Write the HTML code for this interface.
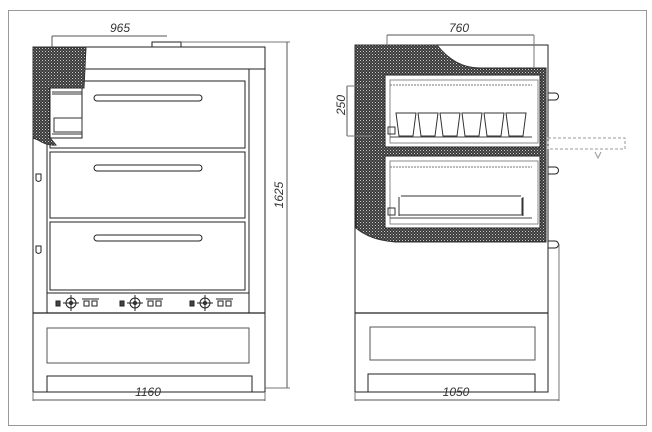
<!DOCTYPE html>
<html><head><meta charset="utf-8"><style>
html,body{margin:0;padding:0;background:#fff;}
svg{display:block;}
text{font-family:"Liberation Sans",sans-serif;font-style:italic;font-size:12px;fill:#333;}
</style></head><body>
<svg width="652" height="432" viewBox="0 0 652 432" xmlns="http://www.w3.org/2000/svg">
<defs>
<pattern id="h" width="3" height="3" patternUnits="userSpaceOnUse">
<rect width="3" height="3" fill="#3a3a3a"/>
<rect x="0" y="0" width="1" height="1" fill="#ccc"/>
<rect x="1.5" y="1.5" width="1" height="1" fill="#999"/>
</pattern>
</defs>
<rect x="8.5" y="10.5" width="638" height="415" fill="none" stroke="#999" stroke-width="1"/>
<g fill="none" stroke="#222" stroke-width="1">
<!-- LEFT FRONT VIEW -->
<rect x="152" y="42" width="29" height="5"/>
<rect x="33" y="47" width="232" height="345"/>
<line x1="33" y1="69" x2="265" y2="69"/>
<line x1="47" y1="69" x2="47" y2="313"/>
<line x1="249" y1="69" x2="249" y2="313"/>
<line x1="33" y1="313" x2="265" y2="313" stroke-width="1.3"/>
<rect x="50" y="81" width="195" height="67"/>
<rect x="50" y="152" width="195" height="66"/>
<rect x="50" y="222" width="195" height="68"/>
<line x1="47" y1="293" x2="249" y2="293"/>
<rect x="94" y="95" width="108" height="6" rx="3"/>
<rect x="94" y="165" width="108" height="6" rx="3"/>
<rect x="94" y="235" width="108" height="6" rx="3"/>
<path d="M36 174 h5 v6 a3 3 0 0 1 -5 0 z"/>
<path d="M36 246 h5 v6 a3 3 0 0 1 -5 0 z"/>
<rect x="47" y="328" width="202" height="35" stroke="#555"/>
<path d="M33 392 H47 V376 H252 V392 H265"/>
<!-- hatch left -->
<path d="M33 47 H86 L84 88 H50 V138 L56 145 Q47 146 38 140 L33 138 Z" fill="url(#h)" stroke="#333"/>
<rect x="50" y="88" width="32" height="50" fill="#fff"/>
<path d="M52 92 H82 M52 94 H82 M54 118 H82 V132 H54 Z M52 134 H82" stroke="#333"/>
<!-- LEFT dims -->
<line x1="52" y1="36" x2="167" y2="36" stroke="#555"/>
<line x1="52" y1="36" x2="52" y2="47" stroke="#555"/>
<line x1="181" y1="42" x2="290" y2="42" stroke="#777"/>
<line x1="287" y1="42" x2="287" y2="388" stroke="#555"/>
<line x1="265" y1="388" x2="290" y2="388" stroke="#777"/>
<line x1="33" y1="392" x2="33" y2="401" stroke="#777"/>
<line x1="265" y1="392" x2="265" y2="401" stroke="#777"/>
<line x1="33" y1="400" x2="265" y2="400" stroke="#555"/>
<!-- RIGHT SIDE VIEW -->
<rect x="355" y="45" width="193" height="347"/>
<line x1="355" y1="313" x2="548" y2="313" stroke-width="1.3"/>
<rect x="370" y="327" width="165" height="33" stroke="#555"/>
<path d="M355 392 H368 V374 H535 V392 H548"/>
<path d="M355 45 H437 Q455 68 480 68 H546 V242 H395 Q370 240 356 228 Z" fill="url(#h)" stroke="#333"/>
<rect x="385" y="75" width="155" height="72" fill="#fff"/>
<rect x="385" y="156" width="155" height="72" fill="#fff"/>
<rect x="390" y="80" width="148" height="63" stroke="#888"/>
<rect x="390" y="161" width="148" height="63" stroke="#888"/>
<line x1="390" y1="85" x2="532" y2="85" stroke="#777" stroke-dasharray="2 1"/>
<line x1="390" y1="167" x2="532" y2="167" stroke="#777" stroke-dasharray="2 1"/>
<line x1="390" y1="137" x2="532" y2="137" stroke="#444"/>
<line x1="390" y1="218" x2="532" y2="218" stroke="#444"/>
<g stroke="#333">
<path d="M396 113 h20 l-3 23 h-14 z M418 113 h20 l-3 23 h-14 z M440 113 h20 l-3 23 h-14 z M462 113 h20 l-3 23 h-14 z M484 113 h20 l-3 23 h-14 z M506 113 h20 l-3 23 h-14 z"/>
<rect x="388" y="127" width="7" height="7"/>
<rect x="388" y="208" width="7" height="7"/>
<path d="M399 198 V215 H522 V198 M401 196 H521 M399 197 V216 M523 197 V216"/>
</g>
<path d="M548 93 h7 a3 3 0 0 1 0 7 h-7"/>
<path d="M548 167 h7 a3 3 0 0 1 0 7 h-7"/>
<path d="M548 241 h7 a3 3 0 0 1 0 7 h-7"/>
<line x1="559" y1="244" x2="559" y2="401" stroke="#777"/>
<rect x="548" y="138" width="77" height="11" stroke="#999" stroke-dasharray="3 2"/>
<path d="M595 152 l3 6 l3 -6" stroke="#999"/>
<!-- right dims -->
<line x1="387" y1="35" x2="534" y2="35" stroke="#555"/>
<line x1="387" y1="35" x2="387" y2="45" stroke="#777"/>
<line x1="534" y1="35" x2="534" y2="68" stroke="#777"/>
<line x1="347" y1="86" x2="347" y2="136" stroke="#555"/>
<line x1="347" y1="86" x2="372" y2="86" stroke="#777"/>
<line x1="347" y1="136" x2="372" y2="136" stroke="#777"/>
<line x1="355" y1="392" x2="355" y2="401" stroke="#777"/>
<line x1="355" y1="400" x2="559" y2="400" stroke="#555"/>
</g>
<!-- controls -->
<g fill="none" stroke="#222" stroke-width="1">
<g id="c">
<rect x="56" y="301" width="4" height="5" fill="#444"/>
<circle cx="71" cy="303" r="5"/><circle cx="71" cy="303" r="1.5"/>
<line x1="63" y1="303" x2="79" y2="303"/><line x1="71" y1="295" x2="71" y2="311"/>
<path d="M82 299 h17 M84 301 h5 v5 h-5 z M92 301 h5 v5 h-5 z"/>
</g>
<use href="#c" x="64"/>
<use href="#c" x="134"/>
</g>
<text x="120" y="32" text-anchor="middle">965</text>
<text x="148" y="396" text-anchor="middle">1160</text>
<text x="283" y="195" text-anchor="middle" transform="rotate(-90 283 195)">1625</text>
<text x="459" y="32" text-anchor="middle">760</text>
<text x="456" y="396" text-anchor="middle">1050</text>
<text x="345" y="105" text-anchor="middle" transform="rotate(-90 345 105)">250</text>
</svg>
</body></html>
